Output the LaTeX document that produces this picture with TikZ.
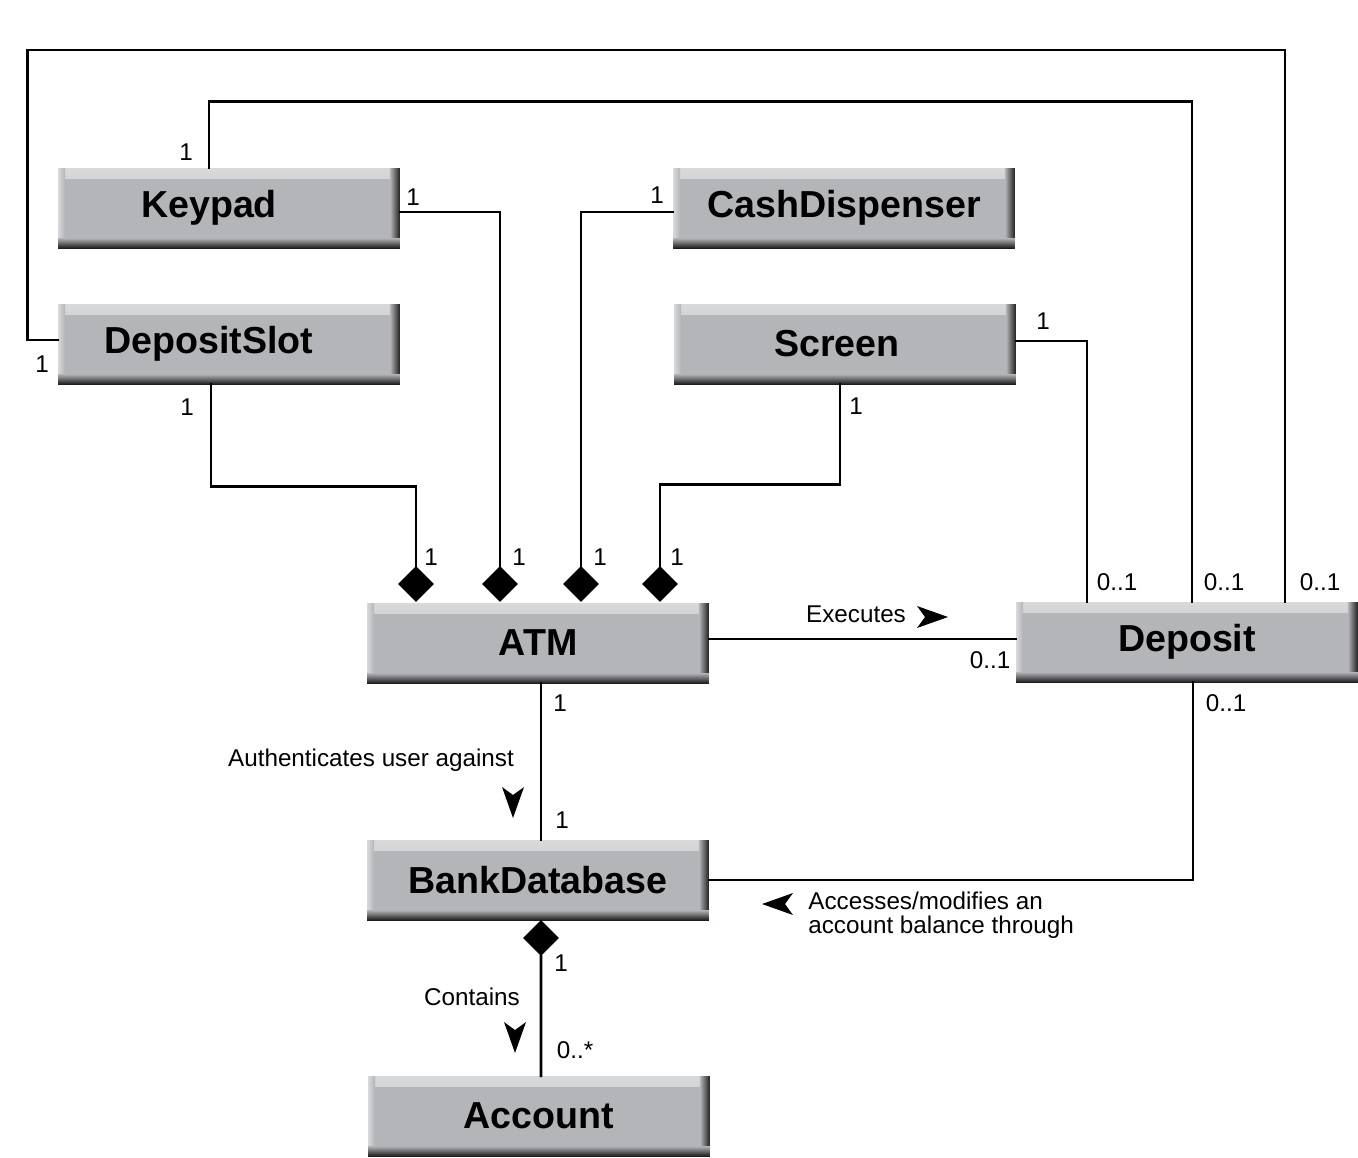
\documentclass[tikz,border=0pt]{standalone}
\usepackage{fontspec}
\setmainfont{Liberation Sans}
\usepackage{tikz}
\usetikzlibrary{shapes.geometric,positioning,calc}
\definecolor{boxgray}{RGB}{180,181,185}
\definecolor{boxlight}{RGB}{216,217,219}
\definecolor{boxdark}{RGB}{30,30,30}

\begin{document}
\begin{tikzpicture}[
    x=0.02cm,y=-0.02cm,
    classbox/.style={fill=boxgray,minimum width=6.84cm,minimum height=1.6cm,inner sep=0pt,
      font=\fontsize{21.4}{25}\selectfont\bfseries,
      path picture={
        \shade[top color=boxlight,bottom color=boxgray]
          (path picture bounding box.north west) rectangle ([yshift=-0.2cm]path picture bounding box.north east);
        \shade[left color=boxlight,right color=boxgray]
          (path picture bounding box.north west) rectangle ([xshift=0.14cm]path picture bounding box.south west);
        \shade[left color=boxgray,right color=boxdark]
          ([xshift=-0.2cm]path picture bounding box.north east) rectangle (path picture bounding box.south east);
        \shade[top color=boxgray,bottom color=boxdark]
          ([yshift=0.2cm]path picture bounding box.south west) rectangle (path picture bounding box.south east);
      }},
    comp/.style={diamond,fill=black,inner sep=0pt,minimum width=0.72cm,minimum height=0.72cm},
    assoc/.style={line width=1.6pt,line cap=rect},
    mult/.style={font=\fontsize{13.8}{15}\selectfont,inner sep=0pt},
    role/.style={font=\fontsize{13.8}{13.4}\selectfont,inner sep=0pt,align=left},
    navarrow/.pic={\fill (0,0) -- (-31,11) -- (-23,0) -- (-31,-11) -- cycle;}
  ]
    \useasboundingbox (0,0) rectangle (1358,1157);

    \node[classbox] (keypad) at (229,208) {\hspace*{-0.8cm}Keypad};
    \node[classbox] (cash) at (844,208) {CashDispenser};
    \node[classbox] (slot) at (229,344) {\hspace*{-0.8cm}DepositSlot};
    \node[classbox] (screen) at (845,344) {\hspace*{-0.32cm}Screen};
    \node[classbox] (atm) at (538,643) {ATM};
    \node[classbox] (dep) at (1187,642) {Deposit};
    \node[classbox] (bank) at (538,880) {BankDatabase};
    \node[classbox] (acct) at (539,1116) {Account};

    \node[comp] (dA) at (416,584) {};
    \node[comp] (dB) at (500,584) {};
    \node[comp] (dC) at (581,584) {};
    \node[comp] (dD) at (660,584) {};
    \node[comp] (dE) at (541,938) {};

    % parts of the ATM
    \draw[assoc] ([xshift=-0.36cm]slot.south) -- ++(0,102) -| (dA.north);
    \draw[assoc] ([yshift=-0.08cm]keypad.east) -| (dB.north);
    \draw[assoc] ([yshift=-0.08cm]cash.west) -| (dC.north);
    \draw[assoc] ([xshift=-0.1cm]screen.south) -- ++(0,100) -| (dD.north);

    % devices used by a deposit
    \draw[assoc] ([yshift=0.06cm]screen.east) -| ([xshift=-2cm]dep.north);
    \draw[assoc] ([xshift=-0.4cm]keypad.north) -- ++(0,-66) -| ([xshift=0.1cm]dep.north);
    \draw[assoc] ([yshift=0.08cm]slot.west) -- ++(-30,0) -- ++(0,-290) -| ([xshift=1.96cm]dep.north);

    % remaining associations
    \draw[assoc] ([yshift=0.08cm]atm.east) -- ([yshift=0.06cm]dep.west);
    \draw[assoc] ([xshift=0.06cm]atm.south) -- ([xshift=0.06cm]bank.north);
    \draw[assoc] ([xshift=0.12cm]dep.south) |- (bank.east);
    \draw[assoc] (dE.south) -- ([xshift=0.04cm]acct.north);

    % multiplicities
    \node[mult] (mKpTop) at (186,152) {1};
    \node[mult] (mKpRight) at (413,197) {1};
    \node[mult] (mCash) at (657,195) {1};
    \node[mult] (mSlotLeft) at (42,364) {1};
    \node[mult] (mSlotDown) at (187,407) {1};
    \node[mult] (mScrRight) at (1043,321) {1};
    \node[mult] (mScrDown) at (856,406) {1};
    \node[mult] (mA) at (431,557) {1};
    \node[mult] (mB) at (519,557) {1};
    \node[mult] (mC) at (600,557) {1};
    \node[mult] (mD) at (677,557) {1};
    \node[mult] (mDepScr) at (1117,582) {0..1};
    \node[mult] (mDepKp) at (1224,582) {0..1};
    \node[mult] (mDepSlot) at (1320,582) {0..1};
    \node[mult] (mDepAtm) at (990,660) {0..1};
    \node[mult] (mAtmDown) at (560,703) {1};
    \node[mult] (mBankUp) at (562,820) {1};
    \node[mult] (mDepDown) at (1226,703) {0..1};
    \node[mult] (mBankDown) at (561,963) {1};
    \node[mult] (mAcct) at (575,1050) {0..*};

    % association names
    \node[role] (exec) at (856,614) {Executes};
    \pic at (948,617) {navarrow};
    \node[role] (auth) at (371,760) {Authenticates user against};
    \pic[rotate=-90] at (513,818) {navarrow};
    \node[role] (contains) at (472,997) {Contains};
    \pic[rotate=-90] at (515,1053) {navarrow};
    \node[role,anchor=west] (access) at (808,915) {Accesses/modifies an\\account balance through};
    \pic[rotate=180] at (762,904) {navarrow};
  \end{tikzpicture}
\end{document}
